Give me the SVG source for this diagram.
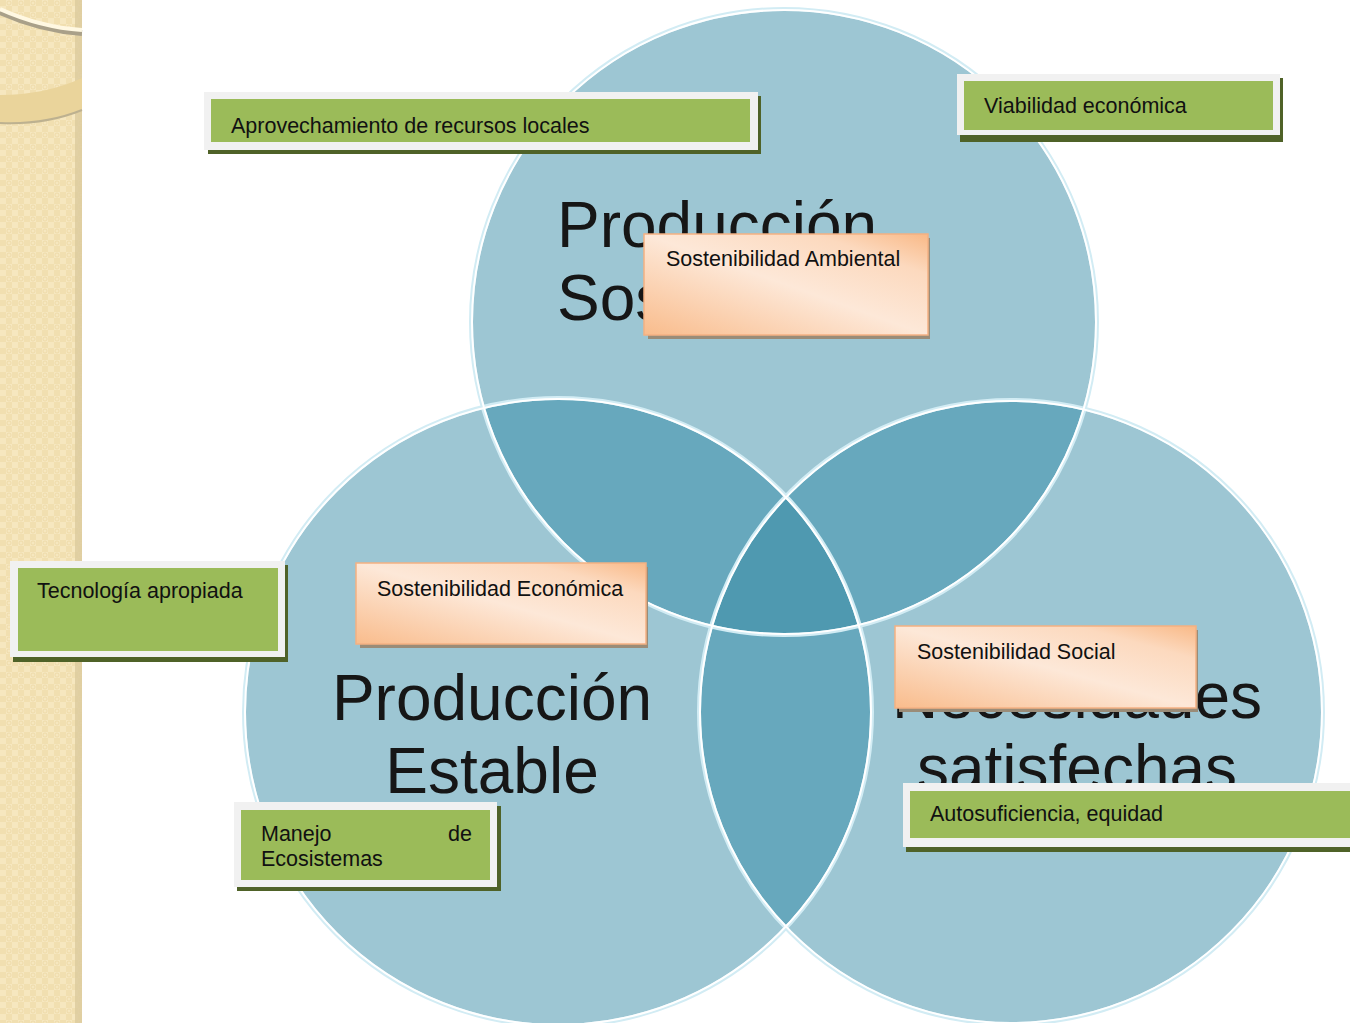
<svg xmlns="http://www.w3.org/2000/svg" width="1350" height="1023" viewBox="0 0 1350 1023">
<defs>
<pattern id="weave" width="12" height="12" patternUnits="userSpaceOnUse">
<rect width="12" height="12" fill="#F6E7BF"/>
<rect width="6" height="6" fill="#F1DFB0"/>
<rect x="6" y="6" width="6" height="6" fill="#F1DFB0"/>
<circle cx="9" cy="3" r="2" fill="none" stroke="#EBD7A4" stroke-width="0.8"/>
</pattern>
<linearGradient id="peach" x1="0" y1="1" x2="1" y2="0">
<stop offset="0" stop-color="#F9BC8C"/>
<stop offset="0.5" stop-color="#FDE8D8"/>
<stop offset="0.8" stop-color="#FCD9BE"/>
<stop offset="1" stop-color="#F9B987"/>
</linearGradient>
<clipPath id="cA"><circle cx="784" cy="322" r="312"/></clipPath>
<clipPath id="cB"><circle cx="558" cy="712" r="313"/></clipPath>
<clipPath id="cC"><circle cx="1011" cy="712" r="311"/></clipPath>
<style>
.base{fill:#9DC6D3}
.two{fill:#67A8BD}
.three{fill:#4F99B0}
.halo{fill:none;stroke:#D2ECF4;stroke-width:4}
.edge{fill:none;stroke:#FFFFFF;stroke-width:2}
.big{font-family:"Liberation Sans",Arial,sans-serif;font-size:64px;fill:#161616}
.lbl{font-family:"Liberation Sans",Arial,sans-serif;font-size:21.5px;fill:#111}
.gOut{fill:#F1F1F1}
.gIn{fill:#9BBB59}
.gSh{fill:#4F6228}
.oBox{fill:url(#peach);stroke:#F4B183;stroke-width:1.5}
.oSh{fill:#9A8C78}
</style>
</defs>
<rect width="1350" height="1023" fill="#FFFFFF"/>
<g id="strip">
<rect x="0" y="0" width="82" height="1023" fill="url(#weave)"/>
<rect x="75" y="0" width="7" height="1023" fill="#DCCB9E" opacity="0.8"/>
<path d="M0,12 Q40,30 82,33" fill="none" stroke="#A9A089" stroke-width="6"/>
<path d="M0,9 Q40,27 82,30" fill="none" stroke="#FFF8E2" stroke-width="4"/>
<path d="M0,95 Q45,95 82,78 L82,110 Q45,125 0,123 Z" fill="#EAD49B"/>
<path d="M0,123 Q45,125 82,110" fill="none" stroke="#BDB190" stroke-width="2"/>
</g>
<g id="venn">
<circle class="base" cx="784" cy="322" r="312"/>
<circle class="base" cx="558" cy="712" r="313"/>
<circle class="base" cx="1011" cy="712" r="311"/>
<g clip-path="url(#cA)">
<circle class="two" cx="558" cy="712" r="313"/>
<circle class="two" cx="1011" cy="712" r="311"/>
<g clip-path="url(#cB)"><circle class="three" cx="1011" cy="712" r="311"/></g>
</g>
<g clip-path="url(#cB)"><circle class="two" cx="1011" cy="712" r="311"/></g>
<g clip-path="url(#cA)"><g clip-path="url(#cB)"><circle class="three" cx="1011" cy="712" r="311"/></g></g>
<circle class="halo" cx="784" cy="322" r="313"/>
<circle class="halo" cx="558" cy="712" r="314"/>
<circle class="halo" cx="1011" cy="712" r="312"/>
<circle class="edge" cx="784" cy="322" r="312"/>
<circle class="edge" cx="558" cy="712" r="313"/>
<circle class="edge" cx="1011" cy="712" r="311"/>
</g>
<g id="circle-titles">
<text class="big" x="557" y="247">Producción</text>
<text class="big" x="557" y="320">Sostenible</text>
<text class="big" x="492" y="720" text-anchor="middle">Producción</text>
<text class="big" x="492" y="793" text-anchor="middle">Estable</text>
<text class="big" x="1077" y="718" text-anchor="middle">Necesidades</text>
<text class="big" x="1077" y="790" text-anchor="middle">satisfechas</text>
</g>
<g id="connectors"></g>
<g id="n-aprovechamiento">
<rect class="gSh" x="208" y="96" width="553" height="58"/>
<rect class="gOut" x="204" y="92" width="554" height="58"/>
<rect class="gIn" x="211" y="99" width="539" height="43"/>
<text class="lbl" x="231" y="133">Aprovechamiento de recursos locales</text>
</g>
<g id="n-viabilidad">
<rect class="gSh" x="960" y="78" width="323" height="64"/>
<rect class="gOut" x="957" y="74" width="323" height="61"/>
<rect class="gIn" x="964" y="81" width="309" height="49"/>
<text class="lbl" x="984" y="113">Viabilidad económica</text>
</g>
<g id="n-ambiental">
<rect class="oSh" x="648" y="238" width="282" height="101"/>
<rect class="oBox" x="644" y="234" width="284" height="101"/>
<text class="lbl" x="666" y="266">Sostenibilidad Ambiental</text>
</g>
<g id="n-tecnologia">
<rect class="gSh" x="13" y="565" width="275" height="97"/>
<rect class="gOut" x="10" y="561" width="275" height="96"/>
<rect class="gIn" x="18" y="568" width="260" height="83"/>
<text class="lbl" x="37" y="598">Tecnología apropiada</text>
</g>
<g id="n-economica">
<rect class="oSh" x="360" y="567" width="288" height="81"/>
<rect class="oBox" x="356" y="563" width="290" height="81"/>
<text class="lbl" x="377" y="596">Sostenibilidad Económica</text>
</g>
<g id="n-social">
<rect class="oSh" x="899" y="630" width="299" height="82"/>
<rect class="oBox" x="895" y="626" width="301" height="82"/>
<text class="lbl" x="917" y="659">Sostenibilidad Social</text>
</g>
<g id="n-manejo">
<rect class="gSh" x="237" y="806" width="264" height="85"/>
<rect class="gOut" x="234" y="802" width="263" height="85"/>
<rect class="gIn" x="241" y="810" width="249" height="70"/>
<text class="lbl" x="261" y="841">Manejo</text>
<text class="lbl" x="472" y="841" text-anchor="end">de</text>
<text class="lbl" x="261" y="866">Ecosistemas</text>
</g>
<g id="n-autosuficiencia">
<rect class="gSh" x="906" y="787" width="444" height="65"/>
<rect class="gOut" x="903" y="783" width="447" height="64"/>
<rect class="gIn" x="910" y="791" width="440" height="47"/>
<text class="lbl" x="930" y="821">Autosuficiencia, equidad</text>
</g>
</svg>
